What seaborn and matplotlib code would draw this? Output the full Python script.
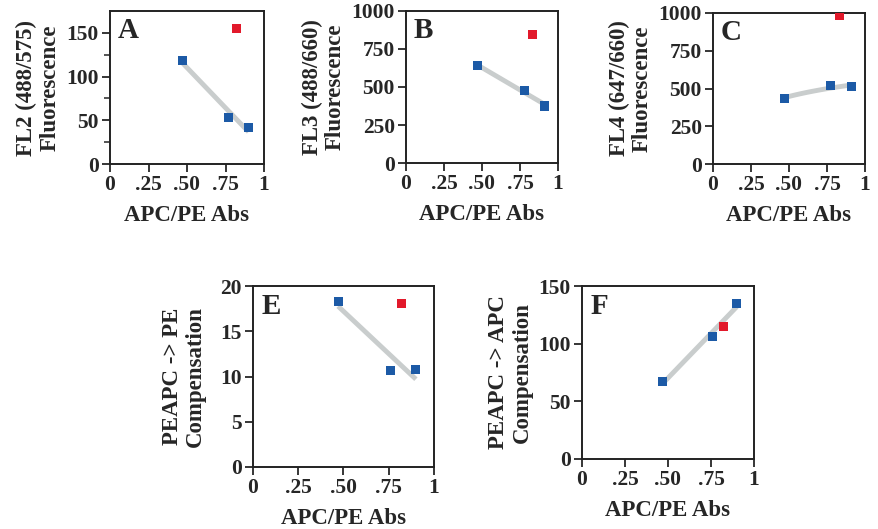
import matplotlib
matplotlib.use("Agg")
import matplotlib.pyplot as plt
import numpy as np
import pandas as pd
import seaborn as sns

# blue points: three samples, red point: the outlier
abs_blue = [0.47, 0.77, 0.90]
abs_red = [0.82]

fl2_blue = [118, 53, 42]
fl2_red = [155]
fl3_blue = [640, 480, 375]
fl3_red = [845]
abs_c_blue = [0.47, 0.77, 0.91]
abs_c_red = [0.83]
fl4_blue = [435, 520, 510]
fl4_red = [985]
abs_e_blue = [0.47, 0.76, 0.90]
pe_comp_blue = [18.3, 10.7, 10.8]
pe_comp_red = [18.1]
apc_comp_blue = [67, 106, 135]
apc_comp_red = [115]

x_ticks = [0, 0.25, 0.5, 0.75, 1]
x_ticklabels = ["0", ".25", ".50", ".75", "1"]

BLUE = "#1c5aa6"
RED = "#e2192b"
GRAY = "#c9cdcd"

sns.set_style("ticks")
plt.rcParams["font.family"] = ["Liberation Serif", "DejaVu Serif"]
plt.rcParams["font.weight"] = "bold"
plt.rcParams["axes.labelweight"] = "bold"

W, H = 879, 529
fig = plt.figure(figsize=(W / 100, H / 100), dpi=100)


def px_axes(left, right, top, bottom):
    return fig.add_axes([left / W, (H - bottom) / H, (right - left) / W, (bottom - top) / H])


def panel(ax, xb, yb, xr, yr, ylim, yticks, ylabel, letter, logx=False, minor=None, ypad=4):
    blue = pd.DataFrame({"x": xb, "y": yb})
    red = pd.DataFrame({"x": xr, "y": yr})
    sns.regplot(data=blue, x="x", y="y", ax=ax, scatter=False, ci=None, logx=logx,
                color=GRAY, line_kws={"lw": 3.5, "solid_capstyle": "butt"})
    sns.scatterplot(data=blue, x="x", y="y", ax=ax, marker="s", s=42, color=BLUE,
                    edgecolor="none", zorder=3)
    sns.scatterplot(data=red, x="x", y="y", ax=ax, marker="s", s=42, color=RED,
                    edgecolor="none", zorder=3)
    ax.set_xlim(0, 1)
    ax.set_ylim(*ylim)
    ax.set_xticks(x_ticks)
    ax.set_xticklabels(x_ticklabels)
    ax.set_yticks(yticks)
    if minor is not None:
        ax.set_yticks(minor, minor=True)
    ax.tick_params(axis="both", which="major", direction="out", length=6, width=1.3,
                   labelsize=15.5, pad=2)
    ax.tick_params(axis="y", which="minor", direction="out", length=4, width=1.1)
    for s in ax.spines.values():
        s.set_linewidth(1.4)
        s.set_color("#222222")
    ax.set_xlabel("APC/PE Abs", fontsize=16.5, labelpad=7)
    ax.set_ylabel(ylabel, fontsize=16.5, labelpad=ypad, linespacing=1.15)
    ax.text(0.05, 0.96, letter, transform=ax.transAxes, ha="left", va="top",
            fontsize=21, fontweight="bold")


axA = px_axes(110, 264, 11, 164)
panel(axA, abs_blue, fl2_blue, abs_red, fl2_red, (0, 175), [0, 50, 100, 150],
      "FL2 (488/575)\nFluorescence", "A", minor=[25, 75, 125])

axB = px_axes(406, 558, 11, 163)
panel(axB, [0.47, 0.78, 0.91], fl3_blue, [0.83], fl3_red, (0, 1000),
      [0, 250, 500, 750, 1000], "FL3 (488/660)\nFluorescence", "B")

axC = px_axes(713, 865, 13, 164)
panel(axC, abs_c_blue, fl4_blue, abs_c_red, fl4_red, (0, 1000),
      [0, 250, 500, 750, 1000], "FL4 (647/660)\nFluorescence", "C", logx=True)

axE = px_axes(253, 434, 286, 467)
panel(axE, abs_e_blue, pe_comp_blue, abs_red, pe_comp_red, (0, 20),
      [0, 5, 10, 15, 20], "PEAPC -> PE\nCompensation", "E", ypad=10)

axF = px_axes(582, 754, 286, 459)
panel(axF, [0.47, 0.76, 0.90], apc_comp_blue, abs_red, apc_comp_red, (0, 150),
      [0, 50, 100, 150], "PEAPC -> APC\nCompensation", "F")

fig.savefig("out.png", dpi=100)
